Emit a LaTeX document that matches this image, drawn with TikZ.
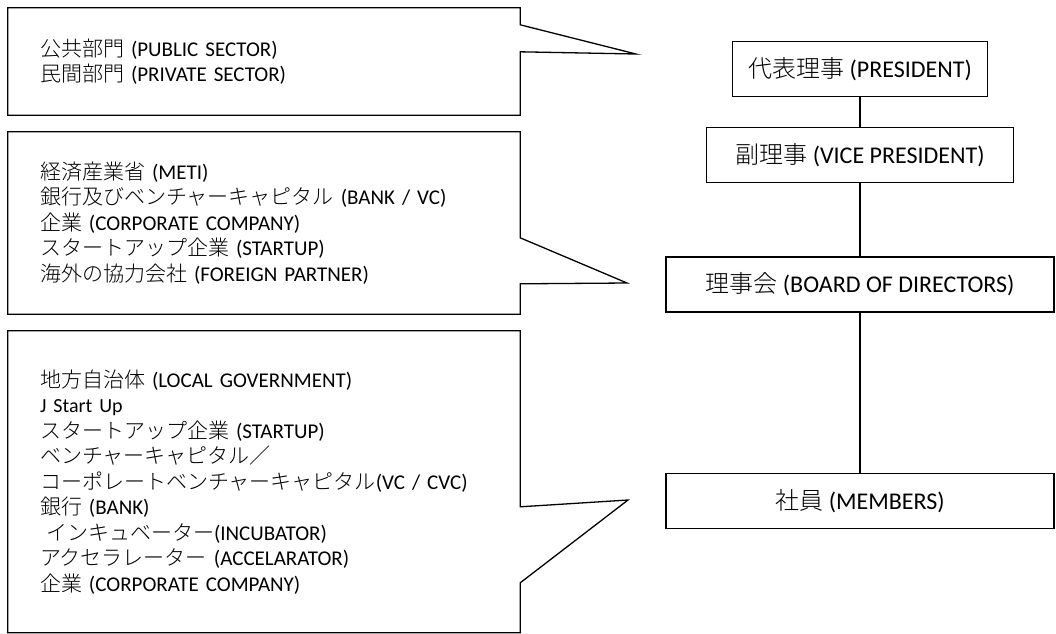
\documentclass[tikz,border=0pt]{standalone}
\usepackage{fontspec}
\setmainfont{Carlito}
\newfontfamily\jpfont{Noto Sans CJK JP}[UprightFont={* Light}]
\newcommand{\jp}[1]{{\jpfont #1}}
\usepackage{tikz}
\usetikzlibrary{positioning}
\tikzset{
    org box/.style={rectangle, draw, line width=1.3pt, minimum height=55pt, inner sep=0pt, font=\fontsize{24}{28}\selectfont},
    note box/.style={rectangle, minimum width=512pt, text width=448pt, inner xsep=32pt, inner ysep=0pt, align=left, font=\fontsize{21}{25.5}\selectfont},
    callout line/.style={line width=1.3pt, line join=miter},
    org link/.style={line width=1.3pt}
}

\begin{document}
\begin{tikzpicture}[x=1pt, y=1pt]
\useasboundingbox (0,0) rectangle (1056,-633);
% Organisation chart
\node[org box, minimum width=255pt] (president) at (860,-69) {\jp{代表理事} (PRESIDENT)};
\node[org box, minimum width=307pt, below=30pt of president] (vice) {\jp{副理事} (VICE PRESIDENT)};
\node[org box, minimum width=388pt, below=73pt of vice] (board) {\jp{理事会} (BOARD OF DIRECTORS)};
\node[org box, minimum width=388pt, below=160pt of board] (members) {\jp{社員} (MEMBERS)};

\draw[org link] (president) -- (vice);
\draw[org link] (vice) -- (board);
\draw[org link] (board) -- (members);

% Callouts
\node[note box, minimum height=107pt] (sector) at (264,-61.5) {\jp{公共部門} (PUBLIC SECTOR)\\
\jp{民間部門} (PRIVATE SECTOR)};
\node[note box, minimum height=182pt] (partner) at (264,-223) {\jp{経済産業省} (METI)\\
\jp{銀行及びベンチャーキャピタル} (BANK / VC)\\
\jp{企業} (CORPORATE COMPANY)\\
\jp{スタートアップ企業} (STARTUP)\\
\jp{海外の協力会社} (FOREIGN PARTNER)};
\node[note box, minimum height=301.5pt] (member) at (264,-481.75) {\jp{地方自治体} (LOCAL GOVERNMENT)\\
{\fontsize{20}{25.5}\selectfont J Start Up}\\
\jp{スタートアップ企業} (STARTUP)\\
\jp{ベンチャーキャピタル／}\\
\jp{コーポレートベンチャーキャピタル}(VC / CVC)\\
\jp{銀行} (BANK)\\
\hspace*{6pt}\jp{インキュベーター}(INCUBATOR)\\
\jp{アクセラレーター} (ACCELARATOR)\\
\jp{企業} (CORPORATE COMPANY)};

\coordinate (sector tip) at (636,-54);
\coordinate (partner tip) at (627,-283);
\coordinate (member tip) at (628,-500);

\draw[callout line] (sector.north west) -- (sector.north east) -- ([yshift=-17pt]sector.north east) -- (sector tip) -- ([yshift=-44pt]sector.north east) -- (sector.south east) -- (sector.south west) -- cycle;
\draw[callout line] (partner.north west) -- (partner.north east) -- ([yshift=-106pt]partner.north east) -- (partner tip) -- ([yshift=-152pt]partner.north east) -- (partner.south east) -- (partner.south west) -- cycle;
\draw[callout line] (member.north west) -- (member.north east) -- ([yshift=-176pt]member.north east) -- (member tip) -- ([yshift=-252pt]member.north east) -- (member.south east) -- (member.south west) -- cycle;
\end{tikzpicture}
\end{document}
